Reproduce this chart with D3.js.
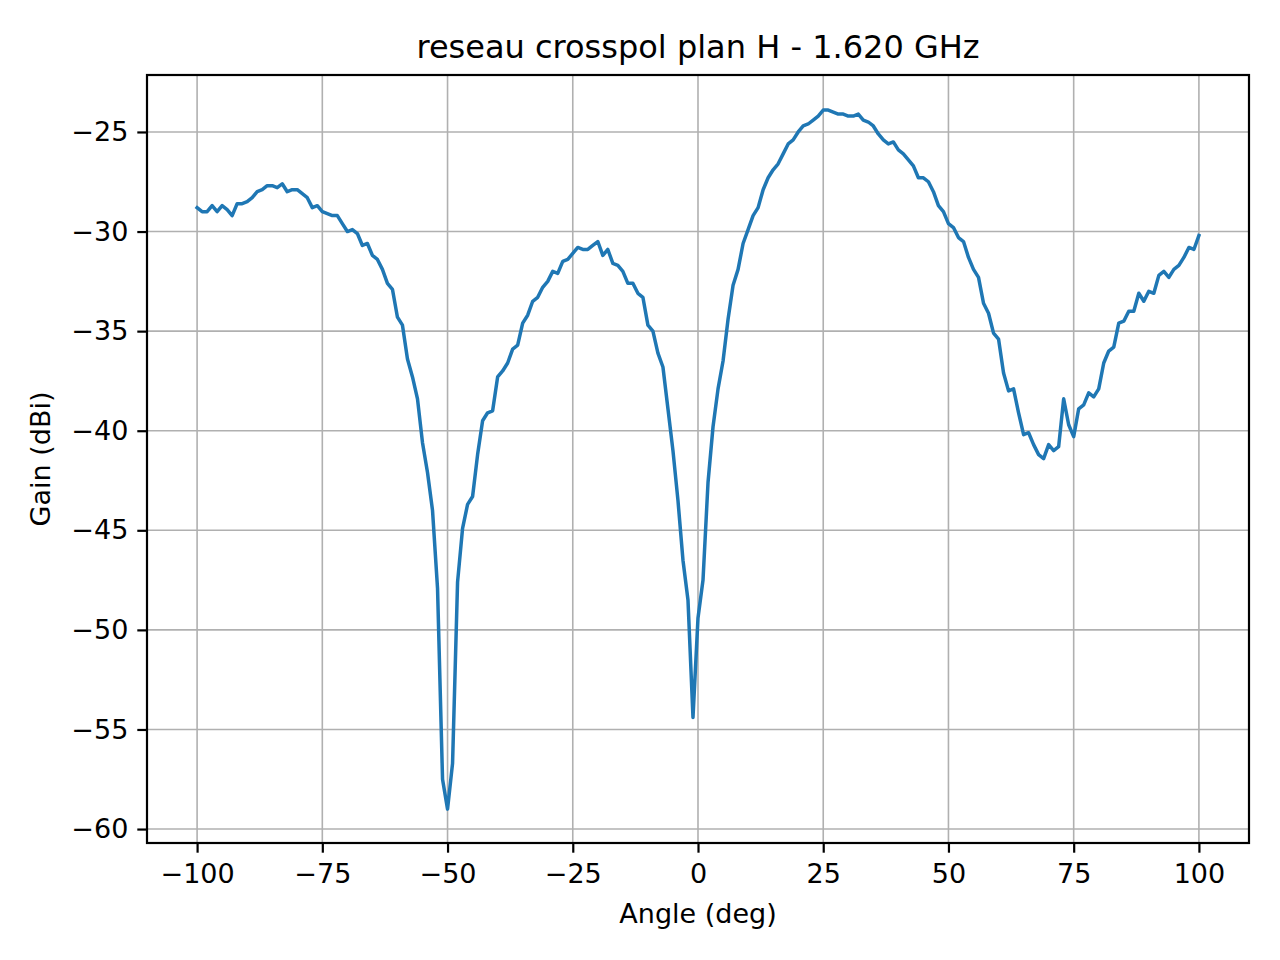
<!DOCTYPE html>
<html>
<head>
<meta charset="utf-8">
<script src="https://cdn.jsdelivr.net/npm/d3@7"></script>
<style>
  body { margin: 0; background: #fff; }
  svg text { font-family: "DejaVu Sans", sans-serif; fill: #000; }
</style>
</head>
<body>
<div id="chart"></div>
<script>
// Angles in degrees, 1 degree steps from -100 to 100
const angleStart = -100;
const gain = [
  -28.8, -29.0, -29.0, -28.7, -29.0, -28.7, -28.9, -29.2, -28.6, -28.6,
  -28.5, -28.3, -28.0, -27.9, -27.7, -27.7, -27.8, -27.6, -28.0, -27.9,
  -27.9, -28.1, -28.3, -28.8, -28.7, -29.0, -29.1, -29.2, -29.2, -29.6,
  -30.0, -29.9, -30.1, -30.7, -30.6, -31.2, -31.4, -31.9, -32.6, -32.9,
  -34.3, -34.7, -36.4, -37.3, -38.4, -40.6, -42.1, -44.0, -47.9, -57.5,
  -59.0, -56.7, -47.6, -44.9, -43.7, -43.3, -41.2, -39.5, -39.1, -39.0,
  -37.3, -37.0, -36.6, -35.9, -35.7, -34.6, -34.2, -33.5, -33.3, -32.8,
  -32.5, -32.0, -32.1, -31.5, -31.4, -31.1, -30.8, -30.9, -30.9, -30.7,
  -30.5, -31.2, -30.9, -31.6, -31.7, -32.0, -32.6, -32.6, -33.1, -33.3,
  -34.7, -35.0, -36.1, -36.8, -38.9, -41.0, -43.5, -46.5, -48.5, -54.4,
  -49.4, -47.5, -42.6, -39.8, -37.9, -36.5, -34.4, -32.7, -31.9, -30.6,
  -29.9, -29.2, -28.8, -27.9, -27.3, -26.9, -26.6, -26.1, -25.6, -25.4,
  -25.0, -24.7, -24.6, -24.4, -24.2, -23.9, -23.9, -24.0, -24.1, -24.1,
  -24.2, -24.2, -24.1, -24.4, -24.5, -24.7, -25.1, -25.4, -25.6, -25.5,
  -25.9, -26.1, -26.4, -26.7, -27.3, -27.3, -27.5, -28.0, -28.7, -29.0,
  -29.6, -29.8, -30.3, -30.5, -31.3, -31.9, -32.3, -33.6, -34.1, -35.1,
  -35.4, -37.1, -38.0, -37.9, -39.1, -40.2, -40.1, -40.7, -41.2, -41.4,
  -40.7, -41.0, -40.8, -38.4, -39.7, -40.3, -38.9, -38.7, -38.1, -38.3,
  -37.9, -36.6, -36.0, -35.8, -34.6, -34.5, -34.0, -34.0, -33.1, -33.5,
  -33.0, -33.1, -32.2, -32.0, -32.3, -31.9, -31.7, -31.3, -30.8, -30.9,
  -30.2
];
const xTicks = [-100, -75, -50, -25, 0, 25, 50, 75, 100];
const yTicks = [-60, -55, -50, -45, -40, -35, -30, -25];
const title = 'reseau crosspol plan H - 1.620 GHz';
const xLabel = 'Angle (deg)';
const yLabel = 'Gain (dBi)';

const data = gain.map((g, i) => ({ angle: angleStart + i, gain: g }));

const W = 1280, H = 960;
const margin = { top: 75, right: 31, bottom: 117, left: 147 };
const width = W - margin.left - margin.right;
const height = H - margin.top - margin.bottom;

const svg = d3.select('#chart').append('svg').attr('width', W).attr('height', H);
const g = svg.append('g').attr('transform', `translate(${margin.left},${margin.top})`);

const x = d3.scaleLinear().domain([-110, 110]).range([0, width]);
const y = d3.scaleLinear().domain([-60.7, -22.14]).range([height, 0]);
const fmt = d => d < 0 ? '\u2212' + Math.abs(d) : String(d);

// Grid
g.append('g').selectAll('line').data(xTicks).join('line')
  .attr('x1', d => x(d)).attr('x2', d => x(d)).attr('y1', 0).attr('y2', height)
  .attr('stroke', '#b0b0b0').attr('stroke-width', 1.6);
g.append('g').selectAll('line').data(yTicks).join('line')
  .attr('y1', d => y(d)).attr('y2', d => y(d)).attr('x1', 0).attr('x2', width)
  .attr('stroke', '#b0b0b0').attr('stroke-width', 1.6);

// Line
const line = d3.line().x(d => x(d.angle)).y(d => y(d.gain));
g.append('path').datum(data).attr('d', line)
  .attr('fill', 'none').attr('stroke', '#1f77b4').attr('stroke-width', 3.5)
  .attr('stroke-linejoin', 'round').attr('stroke-linecap', 'square');

// Axes
const xAxis = g.append('g').attr('transform', `translate(0,${height})`)
  .call(d3.axisBottom(x).tickValues(xTicks).tickFormat(fmt).tickSize(9.7).tickPadding(11));
const yAxis = g.append('g')
  .call(d3.axisLeft(y).tickValues(yTicks).tickFormat(fmt).tickSize(9.7).tickPadding(9));
[xAxis, yAxis].forEach(a => {
  a.select('.domain').remove();
  a.selectAll('.tick line').attr('stroke', '#000').attr('stroke-width', 2.2);
  a.selectAll('.tick text').style('font-size', '27px').attr('font-family', 'DejaVu Sans');
});

// Frame
g.append('rect').attr('width', width).attr('height', height)
  .attr('fill', 'none').attr('stroke', '#000').attr('stroke-width', 2.2);

// Labels
svg.append('text').attr('x', margin.left + width / 2).attr('y', 58)
  .attr('text-anchor', 'middle').style('font-size', '32px').text(title);
svg.append('text').attr('x', margin.left + width / 2).attr('y', 923)
  .attr('text-anchor', 'middle').style('font-size', '27px').text(xLabel);
svg.append('text').attr('transform', `translate(50,${margin.top + height / 2}) rotate(-90)`)
  .attr('text-anchor', 'middle').style('font-size', '27px').text(yLabel);
</script>
</body>
</html>
